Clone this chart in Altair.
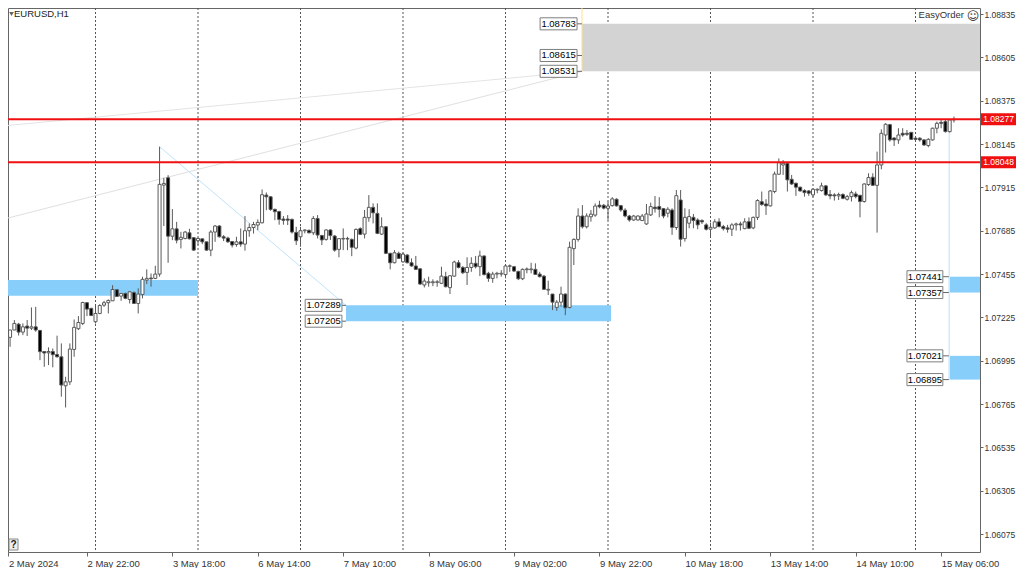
import altair as alt
import pandas as pd

BASE = 1.06
# candle values in pips above 1.0600
o = [117.5,117.2,111.9,115.8,118.9,114.7,117.9,116.8,117.5,115.6,104.4,103.7,104.4,102.8,101.6,86.2,88.3,105.5,116.5,119.3,
130.3,127.3,120.2,124.6,129,130.3,131.3,137.2,133.8,135.2,132,135.7,129.9,134.7,142.3,143.4,143.2,145.5,192.7,196.6,
165.6,169.5,163.9,164.4,167.4,164.8,163.2,164.2,162.6,158.2,167.8,171,165.3,164.6,162.8,161.2,162.6,161.4,168.5,170.2,
171.5,172.7,187.4,186.5,179.8,178.7,174.7,174.7,174.5,167.6,165.3,168.5,168.7,167.4,175,166,163.9,168.9,165.7,158.6,
164.1,164.4,163.9,159.3,169.6,166.7,175.4,180.9,177.7,166.7,170.6,156.5,151.5,156.5,152,155.6,151.5,149.8,148.3,139.7,
140.9,140.9,141.1,140.6,144.1,138.3,144.4,151.5,149,146.4,149,151.2,149.4,155.1,145.9,143.2,145.5,145.5,145.2,149.6,
149.4,146.9,143,147.8,147.8,148,145.5,144.4,137,134.9,127.8,130.6,134.9,127.8,159,163.9,176.3,170.6,175.9,176.8,
182.1,182,180.4,181.8,185.2,181.8,179.4,176.3,174.2,174.2,173.9,172.1,176.9,181,181.3,180.2,177.8,179.5,170.2,184.8,
164.3,172.5,175.6,174.2,173.9,171.6,169.3,170,173.2,170.7,170,169.3,171.6,172.1,169.6,173.3,170,175.6,183.9,182.7,
181.7,189.3,198.5,203.4,204.3,195.8,193.7,191.6,189.8,189.6,187.5,190.1,189.8,192.3,187.7,187.5,187,187.7,185.2,186.6,
188,187.3,184,193,196.9,192.6,203.4,219.3,224.8,217.7,216.7,220.2,220.2,220.7,217.6,217.6,216.7,213.7,216.7,222.9,
226,226.4,221.1,227.6]
c = [112.2,111.9,115.8,119.3,114.7,117.5,116.8,117.5,115.8,104.3,103.6,104.4,102.7,101.6,86.6,88.3,105.7,117.2,119.8,130.4,
126.9,123.5,124.6,128.8,130.3,131.5,137.3,133.6,135.2,132.6,136.1,129.9,134.9,142.7,143.2,143,145.5,193.1,193.6,165.6,
169.5,163.5,165,167.8,164.2,158.2,164.4,162.6,158.2,167.8,171,165.3,164.6,162.6,160.9,162.6,161.4,168.5,170.2,171.8,
172.9,187.6,186.5,179.8,178.6,174.5,174,174.1,167.8,163.2,168.5,168.9,167.4,175,166.2,163.6,168.9,165.9,158.2,164.3,
164.4,164.1,159.7,169.2,166.6,175.6,180.9,178,167.1,170.6,156.5,151.5,156.8,153.8,156.1,151.5,149.8,148,140.2,141.8,
141.4,141.4,141.4,144.4,138.8,144.6,151.9,149,146.2,149,151.2,149.4,155.1,145.2,143.2,145.5,145.9,145.9,149.8,149.9,
147.1,143,148,148.2,148.2,145.3,144.1,137.4,137.4,130.6,130.6,134.9,127.6,159.7,163.9,176.3,170.6,176.3,177.3,181.6,
181.2,180.5,181.6,185.4,181.7,179.5,176.3,174.2,176.3,176.3,176.3,177.4,181.3,180.2,179.9,176.3,179.9,170.3,187.1,164,
175.6,176,173.9,171.6,173.2,169.3,170.3,173.2,170.7,169.6,169.3,171.6,172.1,171.6,173.2,169.8,175.6,184.5,182.4,181.7,
189.6,198.6,204.6,204.3,195.5,193.3,191.6,189.6,188.7,188.4,190.5,190.5,192.3,187.5,187,187,187.7,185.7,186.6,188.7,
186.6,184,193.3,196.7,192.6,203.4,220.2,225,216.7,216.7,219.3,219.3,219.7,217,217,216.7,214,217,222.9,225.5,
225.5,221.1,227.3,227.3]
h = [118.4,117.2,115.8,121.1,119.6,119.3,121.1,127.8,128.1,115.6,104.4,106.6,106,112.8,108.7,91,108.7,121.4,123.2,130.8,
130.6,127.6,129,129.5,131.3,132,139.6,137.3,135.2,135.7,136.5,136.3,137.9,144.1,148,145.8,149.9,213.1,196.6,198,
180,173.2,167.9,168.3,169.5,164.8,164.8,164.2,162.6,168.8,171.5,171.5,166.2,165.3,163,165.3,169.7,176.3,172.4,173.2,
174.5,190.4,188.8,186.9,180.3,179.1,176.3,176.8,175,170.6,170.6,169.2,169.2,176.3,176.8,166.2,169.2,169.2,166.2,164.4,
169.7,165.3,164.4,169.7,170.3,179.5,187.4,183,183,175.6,171,156.8,158.2,157.4,156.8,156.1,153.8,155.1,148.5,143.2,
144.1,142.7,142.3,149.4,146.7,145,152.6,152.9,149.8,154.4,154.4,155.1,157.9,155.4,146.7,146.7,146.7,147.6,150.3,150.6,
149.8,147.3,148.5,149,151.5,151.2,146.7,145,142,134.9,131.7,138.8,135.2,162.7,164.4,180.4,182.1,177.7,179.5,183,
184.4,182.7,183.9,186.3,185.7,182.2,180.4,176.9,176.9,176.7,177.4,182.7,183.4,186.9,186.3,180.6,181,180.4,190.1,190.1,
180.4,179.9,177.4,175.1,174.6,172.5,172.8,174.6,175.1,171.6,171.6,172.5,172.8,173.3,175.1,175.6,176,185.2,189.3,185.2,
190.1,199.9,206.9,206,204.6,198.1,194,191.9,190.5,190.1,191,191,194,192.8,190.1,188.4,188.7,188.4,187.5,189.8,
189.3,187.5,193.7,199,199,210.5,222.3,225.5,225.2,218.1,222.9,222.9,222,220.9,218.4,218.1,217,217.6,223.2,226.4,
227.3,227.3,227.6,229.1]
l = [111.9,109.6,106.9,115.8,112.9,113.1,112.6,115.8,114.9,99.8,96.3,97.2,96,101.2,80.4,74.7,86.6,101.6,115.8,118.4,
123.2,123.2,119.3,124.2,128.1,124.6,131.2,133.5,131.3,132.2,129.9,129.6,124.6,132.6,140.2,138.8,142.8,144.1,171,151.5,
163.5,161.8,159.1,163.9,163.9,157.9,160.9,161.4,157.9,155,162.6,164.9,163,162.1,159.6,160,160,157.9,165.3,167,
168.8,172.4,179.4,179.1,174.1,171.7,171.7,171.5,167,160.9,160,167.1,167.1,166.2,164.4,160.9,163.2,163.6,157.4,154.4,
158.2,158.2,155,158.6,166.2,164.4,173.3,172.4,166.7,166.2,156.1,148,151.2,153.5,151.5,151.2,149.4,147.6,139.8,138.4,
138.8,139.1,138.8,140.2,138.4,134.9,144.1,148.5,145.5,139.7,146.7,148.5,144.4,144.8,141.4,140.9,143.2,144.1,143.2,146.7,
146.7,142.3,142.3,145.9,145.9,145,143.7,137,134.4,126.4,126,128.2,123.7,127.3,150.3,162.7,169.7,169.7,173.3,175.9,
180.4,179.8,174.2,181.3,181.3,178.6,175.6,173.3,173.7,173.9,173.7,171.6,176.3,178.1,175.6,175.1,175.6,166.3,168.9,160.1,
162.7,169.8,169.8,169.3,172.1,168.6,165.7,169.6,170.3,168.6,167.5,165.7,168.6,168.6,169.3,169.3,169.3,174.2,181.7,176.9,
181.3,188.4,198.1,198.1,189.3,192.8,187,189.3,186.6,187,186.3,188.4,189.3,187,185.2,184.5,184.8,185.2,184.5,184,
185.7,175.6,183.4,192.3,192.3,167.5,201.1,210,215.8,213.5,214.6,218.4,218.8,216.7,216.3,215.8,213.5,212.8,216.3,220.2,
222.9,220.6,220.6,225.9]

separators = [22, 46, 70, 94, 118, 142, 166, 190, 214]
x_ticks = [1.6, 20, 40, 60, 80, 100, 120, 140, 160, 180, 200, 220]
x_labels = ["2 May 2024", "2 May 22:00", "3 May 18:00", "6 May 14:00", "7 May 10:00", "8 May 06:00",
            "9 May 02:00", "9 May 22:00", "10 May 18:00", "13 May 14:00", "14 May 10:00", "15 May 06:00"]
y_ticks = [1.08835, 1.08605, 1.08375, 1.08145, 1.07915, 1.07685, 1.07455,
           1.07225, 1.06995, 1.06765, 1.06535, 1.06305, 1.06075]
red_levels = [1.08277, 1.08048]

zones = pd.DataFrame({
    "a": [1.51, 80.65, 221.8, 221.8, 135.9],
    "b": [46, 142.7, 229.1, 229.1, 229.1],
    "p0": [1.07424, 1.07289, 1.07441, 1.07021, 1.08783],
    "p1": [1.07340, 1.07205, 1.07357, 1.06895, 1.08531],
    "c": ["#87cefa", "#87cefa", "#87cefa", "#87cefa", "#d3d3d3"],
})
tags = pd.DataFrame({
    "price": [1.08783, 1.08615, 1.08531, 1.07289, 1.07205, 1.07441, 1.07357, 1.07021, 1.06895],
    "a": [126.1] * 3 + [71.1] * 2 + [212.0] * 4,
    "b": [134.75] * 3 + [79.7] * 2 + [220.4] * 4,
    "e": [135.9] * 3 + [80.65] * 2 + [221.8] * 4,
})
tags["label"] = tags["price"].map(lambda v: f"{v:.5f}")
tags["mid"] = (tags["a"] + tags["b"]) / 2
tags["top"] = tags["price"] + 0.00032
tags["bot"] = tags["price"] - 0.00032

W, H = 972, 544
xs = alt.Scale(domain=[1.512, 229.1], nice=False, zero=False, padding=0)
ys = alt.Scale(domain=[1.05980, 1.08867], nice=False, zero=False, padding=0)
FONT = "Liberation Sans"
TXT = "#333333"

df = pd.DataFrame({"i": range(len(o)), "o": o, "c": c, "h": h, "l": l})
for k in "ochl":
    df[k] = BASE + df[k] / 10000
df["top"] = df[["o", "c"]].max(axis=1)
df["bot"] = df[["o", "c"]].min(axis=1)
df["kind"] = ["up" if b >= a else "down" for a, b in zip(df["o"], df["c"])]

x_axis = alt.Axis(values=x_ticks, title=None, grid=False, domain=False, tickColor="#666666", tickSize=4,
                  labelAlign="left", labelFont=FONT, labelFontSize=9.5, labelColor=TXT, labelPadding=2,
                  labelOverlap=False, labelBound=False, labelFlush=False,
                  labelExpr="[" + ",".join(f"'{t}'" for t in x_labels) + "][round(datum.value/20)]")
y_axis = alt.Axis(values=y_ticks, orient="right", title=None, grid=False, domain=False, tickColor="#666666",
                  tickSize=3, format=".5f", labelFont=FONT, labelFontSize=8.5, labelColor=TXT, labelPadding=1,
                  labelOverlap=False, labelBound=False, labelFlush=False)


def X(f):
    return alt.X(f, scale=xs, axis=x_axis)


def Y(f):
    return alt.Y(f, scale=ys, axis=y_axis)


grid = alt.Chart(pd.DataFrame({"i": separators})).mark_rule(
    color="#555555", strokeWidth=1, strokeDash=[2, 2]
).encode(x=X("i:Q"))

zone_layers = [
    alt.Chart(zones[zones["c"] == col]).mark_rect(clip=True, color=col).encode(
        x=X("a:Q"), x2="b:Q", y=Y("p0:Q"), y2="p1:Q")
    for col in ["#87cefa", "#d3d3d3"]
]

segs = pd.DataFrame({
    "id": ["g1", "g1", "g2", "g2", "b1", "b1", "v", "v", "y", "y"],
    "i": [-0.3, 135.9, -0.3, 135.9, 37, 80.65, 221.9, 221.9, 135.9, 135.9],
    "p": [1.07742, 1.08531, 1.08240, 1.08531, 1.08131, 1.07289, 1.08210, 1.06895, 1.08867, 1.08531],
})
seg_colors = {"g1": "#e0e0e0", "g2": "#e4e4e4", "b1": "#bfe3fb", "v": "#d4e9f9", "y": "#ffe38a"}
seg_widths = {"g1": 1, "g2": 1, "b1": 1, "v": 1.5, "y": 1}
seg_layers = [
    alt.Chart(segs[segs["id"] == k]).mark_line(clip=True, strokeWidth=seg_widths[k], color=col).encode(
        x=X("i:Q"), y=Y("p:Q"))
    for k, col in seg_colors.items()
]

wicks = alt.Chart(df).mark_rule(clip=True, strokeWidth=1, color="#5a5a5a").encode(
    x=X("i:Q"), y=Y("l:Q"), y2="h:Q",
)
bodies = alt.Chart(df).mark_bar(clip=True, size=3, stroke="#5a5a5a", strokeWidth=1).encode(
    x=X("i:Q"), y=Y("bot:Q"), y2="top:Q",
    fill=alt.Fill("kind:N", legend=None, scale=alt.Scale(domain=["up", "down"], range=["#ffffff", "#000000"])),
)

red_lines = alt.Chart(pd.DataFrame({"p": red_levels})).mark_rule(color="#f01010", strokeWidth=2).encode(y=Y("p:Q"))
red_df = pd.DataFrame({"p": red_levels, "top": [v + 0.00032 for v in red_levels],
                       "bot": [v - 0.00032 for v in red_levels], "label": [f"{v:.5f}" for v in red_levels]})
red_box = alt.Chart(red_df).mark_rect(color="#f01010").encode(
    x=alt.value(W + 1), x2=alt.value(W + 36), y=Y("top:Q"), y2="bot:Q")
red_txt = alt.Chart(red_df).mark_text(color="white", font=FONT, fontSize=8.5, align="center").encode(
    x=alt.value(W + 18.5), y=Y("p:Q"), text="label:N")

conn = alt.Chart(tags).mark_rule(color="#666666", strokeWidth=1).encode(x=X("b:Q"), x2="e:Q", y=Y("price:Q"))
box = alt.Chart(tags).mark_rect(fill="white", stroke="#7f7f7f", strokeWidth=1).encode(
    x=X("a:Q"), x2="b:Q", y=Y("top:Q"), y2="bot:Q")
box_txt = alt.Chart(tags).mark_text(color="black", font=FONT, fontSize=9.5, align="center").encode(
    x=X("mid:Q"), y=Y("price:Q"), text="label:N")


def note(text, px, py, font=FONT, color=TXT, **kw):
    return alt.Chart(pd.DataFrame({"t": [text]})).mark_text(font=font, color=color, **kw).encode(
        x=alt.value(px), y=alt.value(py), text="t:N")


arrow = alt.Chart(pd.DataFrame({"t": [1]})).mark_point(
    shape="triangle-down", size=22, filled=True, color="#222222"
).encode(x=alt.value(3.5), y=alt.value(6))
help_box = alt.Chart(pd.DataFrame({"t": [1]})).mark_rect(fill="#f0f0f0", stroke="#888888", strokeWidth=1).encode(
    x=alt.value(1), x2=alt.value(10), y=alt.value(531), y2=alt.value(542))

chart = alt.layer(
    grid, *zone_layers, *seg_layers, wicks, bodies, red_lines, red_box, red_txt, conn, box, box_txt,
    arrow,
    note("EURUSD,H1", 6, 6, align="left", fontSize=9.5, color="#222222"),
    note("EasyOrder", 956, 7, align="right", fontSize=9.5),
    note("☺", 965, 8, font="DejaVu Sans", align="center", fontSize=12),
    help_box,
    note("?", 5.5, 537, align="center", fontSize=10, fontWeight="bold", color="#222222"),
).properties(
    width=W, height=H,
    autosize=alt.AutoSizeParams(type="none"),
    padding={"left": 0, "top": 0, "right": 36, "bottom": 16},
    background="white",
).configure_view(stroke="#666666", strokeWidth=1)

chart.save("out.html", embed_options={"renderer": "svg", "actions": False})
